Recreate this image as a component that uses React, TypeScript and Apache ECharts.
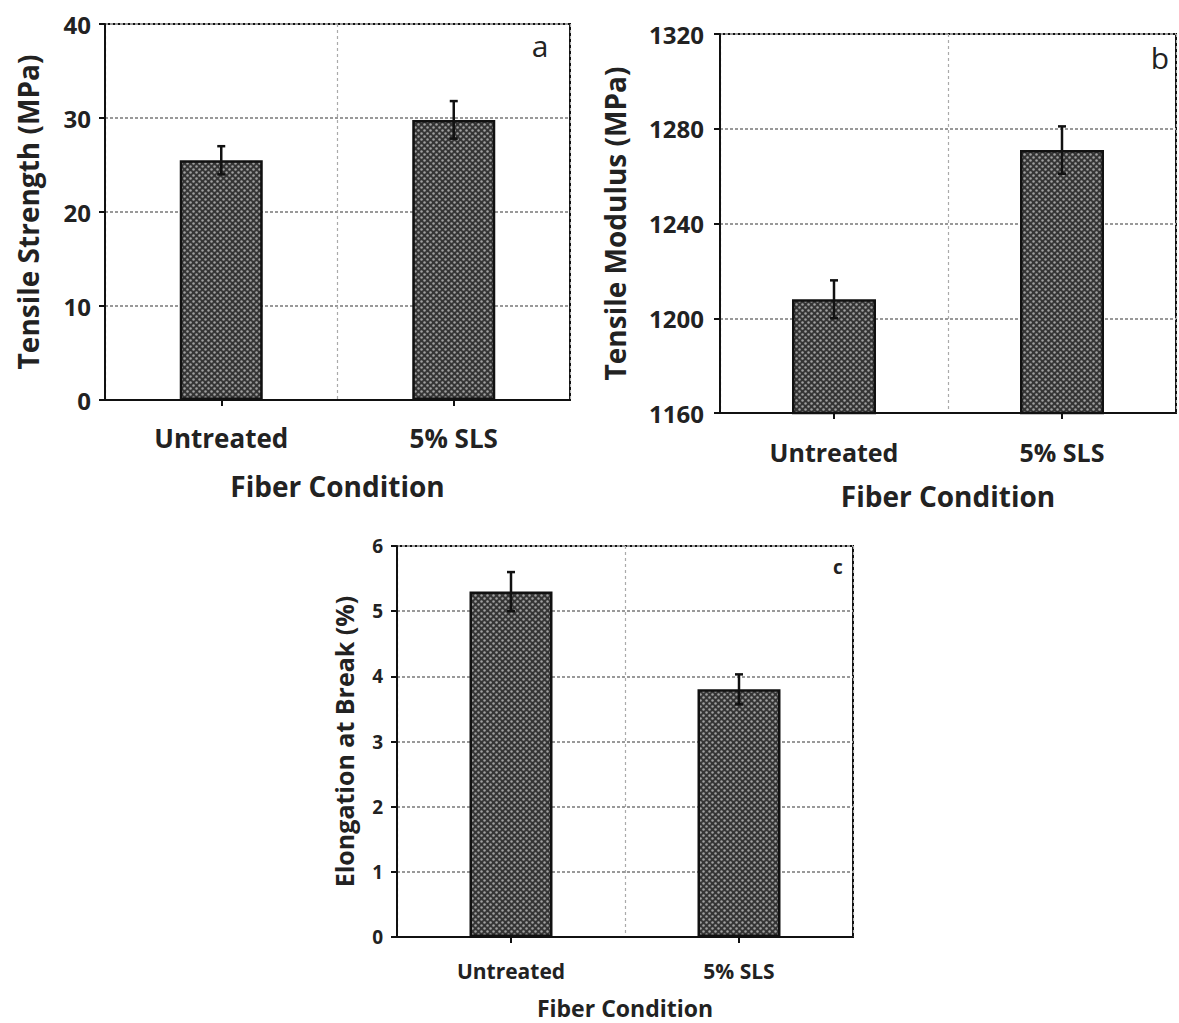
import React, { useEffect, useRef } from "react";
import * as echarts from "echarts";

const categories = ["Untreated", "5% SLS"];

const strengthValues = [25.5, 29.8];
const strengthErrors = [1.5, 2.0];
const modulusValues = [1208, 1271];
const modulusErrors = [8, 10];
const elongationValues = [5.3, 3.8];
const elongationErrors = [0.3, 0.23];

const strengthAxis = { min: 0, max: 40, interval: 10 };
const modulusAxis = { min: 1160, max: 1320, interval: 40 };
const elongationAxis = { min: 0, max: 6, interval: 1 };

const yTitles = ["Tensile Strength (MPa)", "Tensile Modulus (MPa)", "Elongation at Break (%)"];
const xTitle = "Fiber Condition";
const panelLetters = ["a", "b", "c"];

const FONT = "'Open Sans', 'Noto Sans', sans-serif";

function makePattern() {
  const c = document.createElement("canvas");
  c.width = 6;
  c.height = 6;
  const ctx = c.getContext("2d")!;
  ctx.fillStyle = "#353535";
  ctx.fillRect(0, 0, 6, 6);
  ctx.fillStyle = "#a0a0a0";
  ctx.beginPath();
  ctx.arc(1.5, 1.5, 1.25, 0, Math.PI * 2);
  ctx.fill();
  ctx.beginPath();
  ctx.arc(4.5, 4.5, 1.25, 0, Math.PI * 2);
  ctx.fill();
  return c.toDataURL();
}

export default function App() {
  const ref = useRef<HTMLDivElement>(null);
  useEffect(() => {
    if (!ref.current) return;
    const chart = echarts.init(ref.current, undefined, { renderer: "svg" });
    const pattern = { image: makePattern(), repeat: "repeat", imageWidth: 6, imageHeight: 6 } as any;

    const panels = [
      {
        grid: { left: 105, top: 24, width: 465, height: 376 },
        axis: strengthAxis, values: strengthValues, errors: strengthErrors,
        tickFont: 24, tickMargin: 14, catFont: 26, catMargin: 25,
        xNameFont: 28, xNameGap: 72, yNameFont: 28, yNameGap: 63, barWidth: 83,
        letter: { x: 540, y: 45, size: 30, weight: "normal" },
      },
      {
        grid: { left: 720, top: 34, width: 456, height: 379 },
        axis: modulusAxis, values: modulusValues, errors: modulusErrors,
        tickFont: 24, tickMargin: 16, catFont: 25, catMargin: 26,
        xNameFont: 28, xNameGap: 69, yNameFont: 28, yNameGap: 91, barWidth: 84,
        letter: { x: 1160, y: 57, size: 30, weight: "normal" },
      },
      {
        grid: { left: 397, top: 546, width: 456, height: 391 },
        axis: elongationAxis, values: elongationValues, errors: elongationErrors,
        tickFont: 19, tickMargin: 14, catFont: 21, catMargin: 23,
        xNameFont: 23, xNameGap: 59, yNameFont: 25, yNameGap: 41, barWidth: 83,
        letter: { x: 838, y: 567, size: 19, weight: "bold" },
      },
    ];

    const grids: any[] = [];
    const xAxes: any[] = [];
    const yAxes: any[] = [];
    const series: any[] = [];
    const graphics: any[] = [];

    panels.forEach((p, i) => {
      grids.push({ ...p.grid, show: true, borderColor: "#111", borderWidth: 2, backgroundColor: "#fff" });
      xAxes.push({
        type: "category",
        gridIndex: i,
        data: categories,
        name: xTitle,
        nameLocation: "middle",
        nameGap: p.xNameGap,
        nameTextStyle: { fontFamily: FONT, fontWeight: "bold", fontSize: p.xNameFont, color: "#222" },
        axisLine: { lineStyle: { color: "#111", width: 2 } },
        axisTick: { show: true, alignWithLabel: true, length: 6, lineStyle: { color: "#111", width: 2 } },
        axisLabel: { fontFamily: FONT, fontWeight: "bold", fontSize: p.catFont, color: "#222", margin: p.catMargin },
        splitLine: { show: true, lineStyle: { color: "#aaa", type: [3, 3], width: 1.2 } },
      });
      yAxes.push({
        type: "value",
        gridIndex: i,
        min: p.axis.min,
        max: p.axis.max,
        interval: p.axis.interval,
        name: yTitles[i],
        nameLocation: "middle",
        nameGap: p.yNameGap,
        nameTextStyle: { fontFamily: FONT, fontWeight: "bold", fontSize: p.yNameFont, color: "#222" },
        axisLine: { show: true, lineStyle: { color: "#111", width: 2 } },
        axisTick: { show: true, length: 6, lineStyle: { color: "#111", width: 2 } },
        axisLabel: {
          fontFamily: FONT, fontWeight: "bold", fontSize: p.tickFont, color: "#222", margin: p.tickMargin,
          formatter: (v: number) => String(v),
        },
        splitLine: { show: true, lineStyle: { color: "#999", type: [3, 2], width: 2 } },
      });
      series.push({
        type: "bar",
        xAxisIndex: i,
        yAxisIndex: i,
        data: p.values,
        barWidth: p.barWidth,
        itemStyle: { color: pattern, borderColor: "#111", borderWidth: 2.5 },
        z: 2,
      });
      series.push({
        type: "custom",
        xAxisIndex: i,
        yAxisIndex: i,
        z: 5,
        data: p.values.map((v, k) => [k, v - p.errors[k], v + p.errors[k]]),
        encode: { x: 0, y: [1, 2] },
        renderItem: (params: any, api: any) => {
          const x = api.value(0);
          const lo = api.coord([x, api.value(1)]);
          const hi = api.coord([x, api.value(2)]);
          const cw = 4;
          const st = { stroke: "#111", lineWidth: 2.5 };
          return {
            type: "group",
            children: [
              { type: "line", shape: { x1: lo[0], y1: lo[1], x2: hi[0], y2: hi[1] }, style: st },
              { type: "line", shape: { x1: hi[0] - cw, y1: hi[1], x2: hi[0] + cw, y2: hi[1] }, style: st },
              { type: "line", shape: { x1: lo[0] - cw, y1: lo[1], x2: lo[0] + cw, y2: lo[1] }, style: st },
            ],
          };
        },
      });
      graphics.push({
        type: "text",
        x: p.letter.x,
        y: p.letter.y,
        style: {
          text: panelLetters[i],
          fontFamily: FONT,
          fontSize: p.letter.size,
          fontWeight: p.letter.weight,
          fill: "#222",
          align: "center",
          verticalAlign: "middle",
        },
        z: 10,
      });
    });

    chart.setOption({
      animation: false,
      backgroundColor: "#fff",
      grid: grids,
      xAxis: xAxes,
      yAxis: yAxes,
      series,
      graphic: graphics,
    });
    return () => chart.dispose();
  }, []);
  return (
    <div
      ref={ref}
      style={{ position: "fixed", left: 0, top: 0, width: 1179, height: 1023, background: "#fff" }}
    />
  );
}
